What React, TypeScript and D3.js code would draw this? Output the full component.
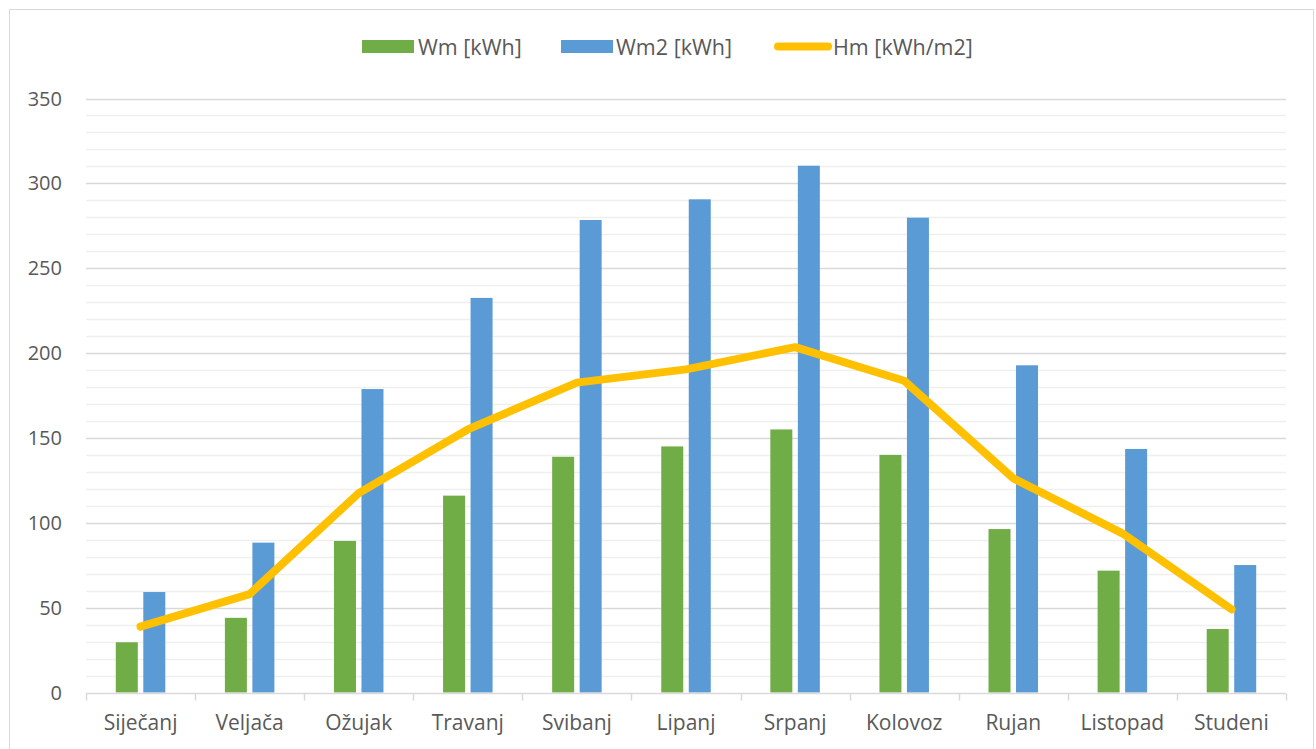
import { useEffect, useRef } from "react"
import * as d3 from 'd3'

const months = ['Siječanj', 'Veljača', 'Ožujak', 'Travanj', 'Svibanj', 'Lipanj', 'Srpanj', 'Kolovoz', 'Rujan', 'Listopad', 'Studeni']
const wm = [29.6, 44, 89.3, 116, 138.9, 145, 155, 140, 96.3, 71.8, 37.4]
const wm2 = [59.2, 88.3, 178.8, 232.5, 278.4, 290.6, 310.4, 279.8, 192.8, 143.5, 75.1]
const hm = [38.8, 58, 117.5, 155, 182.6, 190.4, 203.5, 183.7, 126.2, 93.8, 49]
const yTicks = [0, 50, 100, 150, 200, 250, 300, 350]

const GREEN = '#70ad47'
const BLUE = '#5b9bd5'
const GOLD = '#ffc000'
const TEXT = '#595959'
const FONT = '"Open Sans", sans-serif'

export default function App() {
  const svgRef = useRef<SVGSVGElement>(null)

  useEffect(() => {
    d3.select(svgRef.current).selectAll('*').remove()
    if (!svgRef.current) return
    const svg = d3.select(svgRef.current)
    const width = 1316
    const height = 749
    const margin = { top: 98.5, right: 30, bottom: 56.5, left: 86 }

    svg.append('rect')
      .attr('x', 9.5).attr('y', 9.5)
      .attr('width', 1304).attr('height', 760)
      .attr('fill', '#fff').attr('stroke', '#d9d9d9')

    const x = d3.scaleBand<string>()
      .domain(months)
      .range([margin.left, width - margin.right])

    const bw = x.bandwidth()
    const x1 = d3.scaleBand<string>()
      .domain(['wm', 'wm2'])
      .range([bw / 2 - 24.75, bw / 2 + 24.75])
      .paddingInner(0.2)

    const y = d3.scaleLinear()
      .domain([0, 350])
      .range([height - margin.bottom, margin.top])

    // gridlines
    const minor = d3.range(10, 351, 10).filter(v => v % 50 !== 0)
    svg.append('g').selectAll('line')
      .data(minor)
      .join('line')
      .attr('x1', margin.left).attr('x2', width - margin.right)
      .attr('y1', d => Math.round(y(d)) + 0.5).attr('y2', d => Math.round(y(d)) + 0.5)
      .attr('stroke', '#efefef').attr('stroke-width', 1.5)

    svg.append('g').selectAll('line')
      .data(yTicks.filter(v => v > 0))
      .join('line')
      .attr('x1', margin.left).attr('x2', width - margin.right)
      .attr('y1', d => Math.round(y(d)) + 0.5).attr('y2', d => Math.round(y(d)) + 0.5)
      .attr('stroke', '#d9d9d9').attr('stroke-width', 1.5)

    // y labels
    svg.append('g').selectAll('text')
      .data(yTicks)
      .join('text')
      .attr('x', 62)
      .attr('y', d => y(d))
      .attr('dy', '0.35em')
      .attr('text-anchor', 'end')
      .attr('fill', TEXT)
      .style('font-family', FONT)
      .style('font-size', '20px')
      .text(d => d)

    // bars
    const g = svg.append('g')
    g.selectAll('rect.wm')
      .data(wm)
      .join('rect')
      .attr('class', 'wm')
      .attr('x', (d, i) => (x(months[i]) as number) + (x1('wm') as number))
      .attr('width', x1.bandwidth())
      .attr('y', d => y(d))
      .attr('height', d => y(0) - y(d))
      .attr('fill', GREEN)

    g.selectAll('rect.wm2')
      .data(wm2)
      .join('rect')
      .attr('class', 'wm2')
      .attr('x', (d, i) => (x(months[i]) as number) + (x1('wm2') as number))
      .attr('width', x1.bandwidth())
      .attr('y', d => y(d))
      .attr('height', d => y(0) - y(d))
      .attr('fill', BLUE)

    // x axis
    const axisY = Math.round(y(0)) + 0.5
    svg.append('line')
      .attr('x1', margin.left).attr('x2', width - margin.right)
      .attr('y1', axisY).attr('y2', axisY)
      .attr('stroke', '#d9d9d9').attr('stroke-width', 1.5)

    const bounds = months.map(m => x(m) as number).concat([width - margin.right])
    svg.append('g').selectAll('line')
      .data(bounds)
      .join('line')
      .attr('x1', d => Math.round(d) + 0.5).attr('x2', d => Math.round(d) + 0.5)
      .attr('y1', axisY).attr('y2', axisY + 7)
      .attr('stroke', '#d9d9d9').attr('stroke-width', 1.5)

    svg.append('g').selectAll('text')
      .data(months)
      .join('text')
      .attr('x', d => (x(d) as number) + bw / 2)
      .attr('y', 730)
      .attr('text-anchor', 'middle')
      .attr('fill', TEXT)
      .style('font-family', FONT)
      .style('font-size', '21px')
      .text(d => d)

    // line
    const line = d3.line<number>()
      .x((d, i) => (x(months[i]) as number) + bw / 2)
      .y(d => y(d))

    svg.append('path')
      .datum(hm)
      .attr('fill', 'none')
      .attr('stroke', GOLD)
      .attr('stroke-width', 8)
      .attr('stroke-linecap', 'round')
      .attr('stroke-linejoin', 'round')
      .attr('d', line)

    // legend
    const legend = svg.append('g')
      .style('font-family', FONT)
      .style('font-size', '21.5px')
    legend.append('rect').attr('x', 362).attr('y', 40).attr('width', 52).attr('height', 13).attr('fill', GREEN)
    legend.append('text').attr('x', 418).attr('y', 47).attr('dy', '0.35em').attr('fill', TEXT).text('Wm [kWh]')
    legend.append('rect').attr('x', 561).attr('y', 40).attr('width', 52).attr('height', 13).attr('fill', BLUE)
    legend.append('text').attr('x', 616).attr('y', 47).attr('dy', '0.35em').attr('fill', TEXT).text('Wm2 [kWh]')
    legend.append('line').attr('x1', 778).attr('x2', 828).attr('y1', 46.5).attr('y2', 46.5)
      .attr('stroke', GOLD).attr('stroke-width', 8).attr('stroke-linecap', 'round')
    legend.append('text').attr('x', 833).attr('y', 47).attr('dy', '0.35em').attr('fill', TEXT).text('Hm [kWh/m2]')
  }, [])

  return (
    <div style={{ position: 'absolute', left: 0, top: 0 }}>
      <svg ref={svgRef} width="1316" height="749" style={{ display: 'block' }}></svg>
    </div>
  )
}
